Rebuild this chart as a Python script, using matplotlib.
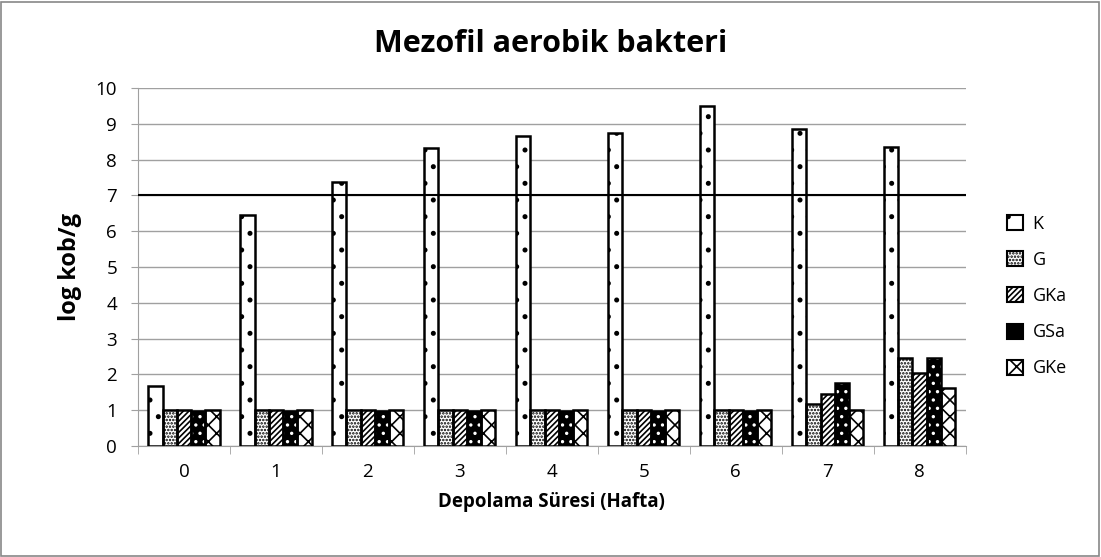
import matplotlib
matplotlib.use("Agg")
import matplotlib.pyplot as plt
import numpy as np
from matplotlib.patches import Rectangle, Patch

weeks = ["0", "1", "2", "3", "4", "5", "6", "7", "8"]
K = [1.68, 6.45, 7.38, 8.32, 8.65, 8.75, 9.5, 8.85, 8.35]
G = [1.0, 1.0, 1.0, 1.0, 1.0, 1.0, 1.0, 1.18, 2.45]
GKa = [1.0, 1.0, 1.0, 1.0, 1.0, 1.0, 1.0, 1.45, 2.05]
GSa = [0.97, 0.97, 0.97, 0.97, 0.97, 0.97, 0.97, 1.75, 2.45]
GKe = [1.0, 1.0, 1.0, 1.0, 1.0, 1.0, 1.0, 1.0, 1.62]
limit = 7
series_names = ["K", "G", "GKa", "GSa", "GKe"]

plt.rcParams['font.family'] = ['Open Sans', 'DejaVu Sans']
plt.rcParams['hatch.linewidth'] = 1.2

fig = plt.figure(figsize=(11.01, 5.57), dpi=100)
ax = fig.add_axes([0.1253, 0.1993, 0.7517, 0.6427])

x = np.arange(len(weeks))
w = 0.155
styles = [
    dict(face='white', hatch='.', hcol='black'),
    dict(face='white', hatch='.....', hcol='black'),
    dict(face='white', hatch='//////', hcol='black'),
    dict(face='black', hatch='..', hcol='white'),
    dict(face='white', hatch='xx', hcol='black'),
]
data = [K, G, GKa, GSa, GKe]
handles = []
for i, (vals, st, name) in enumerate(zip(data, styles, series_names)):
    pos = x + (i - 2) * w
    ax.bar(pos, vals, w, color=st['face'], edgecolor=st['hcol'], hatch=st['hatch'],
           linewidth=0, zorder=3)
    ax.bar(pos, vals, w, facecolor='none', edgecolor='black', linewidth=1.8, zorder=4)
    handles.append(Patch(facecolor=st['face'], edgecolor='black',
                         hatch=st['hatch'] if st['hcol'] == 'black' else None,
                         linewidth=1.5, label=name))

ax.axhline(limit, color='black', linewidth=1.5, zorder=5)

ax.set_xlim(-0.5, len(weeks) - 0.5)
ax.set_ylim(0, 10)
ax.set_yticks(range(0, 11))
ax.yaxis.grid(True, color='#a0a0a0', linewidth=1.0, zorder=0)
ax.set_axisbelow(True)
ax.set_xticks(x)
ax.set_xticklabels(weeks)
ax.set_xticks(np.arange(-0.5, len(weeks)), minor=True)
ax.tick_params(axis='x', which='major', length=0, pad=12, labelsize=13.5)
ax.tick_params(axis='x', which='minor', length=6, color='#a0a0a0')
ax.tick_params(axis='y', length=5, color='#a0a0a0', labelsize=13.5, pad=10)
for s in ['top', 'right']:
    ax.spines[s].set_visible(False)
for s in ['left', 'bottom']:
    ax.spines[s].set_color('#a0a0a0')

ax.set_xlabel("Depolama Süresi (Hafta)", fontsize=13.5, fontweight='bold', labelpad=8)
ax.set_ylabel("log kob/g", fontsize=17, fontweight='bold', labelpad=10)
fig.suptitle("Mezofil aerobik bakteri", fontsize=22, fontweight='bold', y=0.948)

leg = fig.legend(handles=handles, loc='upper left', bbox_to_anchor=(0.9, 0.643),
                 frameon=False, fontsize=13, labelspacing=1.0, handlelength=0.9,
                 handleheight=0.9, handletextpad=0.5)

fig.patches.append(Rectangle((0.001, 0.002), 0.997, 0.995, transform=fig.transFigure,
                             fill=False, edgecolor='#888888', linewidth=1.2))

fig.savefig("out.png", dpi=100)
